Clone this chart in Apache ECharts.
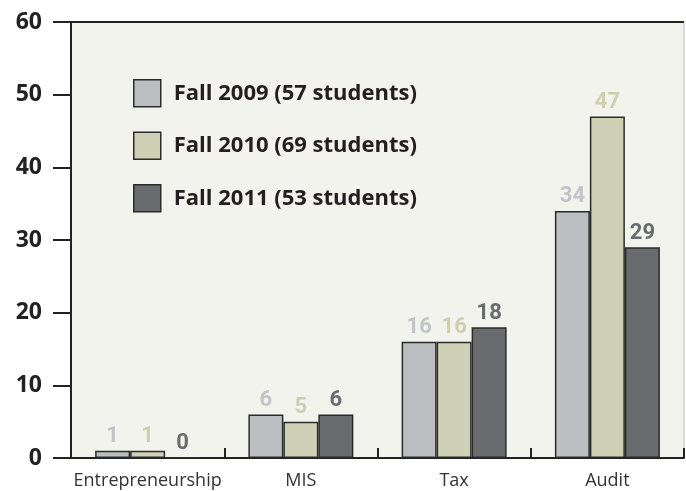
<!DOCTYPE html>
<html>
<head>
<meta charset="utf-8">
<style>
  html, body { margin: 0; padding: 0; background: #fff; }
  #chart { width: 686px; height: 491px; }
</style>
<script src="https://cdn.jsdelivr.net/npm/echarts@6/dist/echarts.min.js"></script>
</head>
<body>
<div id="chart"></div>
<script>
const categories = ['Entrepreneurship', 'MIS', 'Tax', 'Audit']
const seriesNames = ['Fall 2009 (57 students)', 'Fall 2010 (69 students)', 'Fall 2011 (53 students)']
const fall2009 = [1, 6, 16, 34]
const fall2010 = [1, 5, 16, 47]
const fall2011 = [0, 6, 18, 29]
const yTicks = [0, 10, 20, 30, 40, 50, 60]

const fills = ['#bdbec2', '#ced1b5', '#6a6b6f']
const labelColors = ['#c3c4c8', '#cdd0b0', '#6a6b6f']

const chart = echarts.init(document.getElementById('chart'))

function barSeries(name, data, i) {
  return {
    name: name,
    type: 'bar',
    data: data,
    barWidth: 35,
    barGap: '0%',
    itemStyle: {
      color: fills[i],
      borderColor: '#2b2b2b',
      borderWidth: 1.5
    },
    label: {
      show: true,
      position: 'top',
      distance: 3,
      color: labelColors[i],
      fontFamily: 'Roboto',
      fontWeight: 'bold',
      fontSize: 22
    }
  }
}

chart.setOption({
  animation: false,
  grid: {
    left: 71,
    right: 2,
    top: 22,
    bottom: 33,
    show: true,
    backgroundColor: '#f3f3ee',
    borderColor: '#bbbbbb',
    borderWidth: 1
  },
  legend: {
    orient: 'vertical',
    left: 128,
    top: 74,
    itemWidth: 27,
    itemHeight: 27,
    itemGap: 24,
    icon: 'rect',
    data: seriesNames,
    itemStyle: { borderColor: '#2b2b2b', borderWidth: 1.5 },
    textStyle: {
      fontFamily: 'Open Sans',
      fontWeight: 'bold',
      fontSize: 22,
      color: '#231f20',
      padding: [0, 0, 0, 8]
    }
  },
  xAxis: {
    type: 'category',
    data: categories,
    axisLine: { lineStyle: { color: '#222', width: 2 } },
    axisTick: { show: true, inside: true, length: 10, lineStyle: { color: '#222', width: 2 } },
    axisLabel: {
      interval: 0,
      fontFamily: 'Open Sans',
      fontSize: 18,
      color: '#333',
      margin: 14
    }
  },
  yAxis: {
    type: 'value',
    min: 0,
    max: 60,
    interval: 10,
    axisLine: { show: true, lineStyle: { color: '#222', width: 2 } },
    axisTick: { show: true, length: 18, lineStyle: { color: '#222', width: 2 } },
    axisLabel: {
      fontFamily: 'Open Sans',
      fontWeight: 'bold',
      fontSize: 23,
      color: '#222',
      margin: 29,
      formatter: function (v) { return yTicks.indexOf(v) >= 0 ? String(v) : '' }
    },
    splitLine: {
      show: true,
      lineStyle: {
        color: ['transparent', 'transparent', 'transparent', 'transparent', 'transparent', 'transparent', '#222'],
        width: 2
      }
    }
  },
  series: [
    barSeries(seriesNames[0], fall2009, 0),
    barSeries(seriesNames[1], fall2010, 1),
    barSeries(seriesNames[2], fall2011, 2)
  ]
})
</script>
</body>
</html>
